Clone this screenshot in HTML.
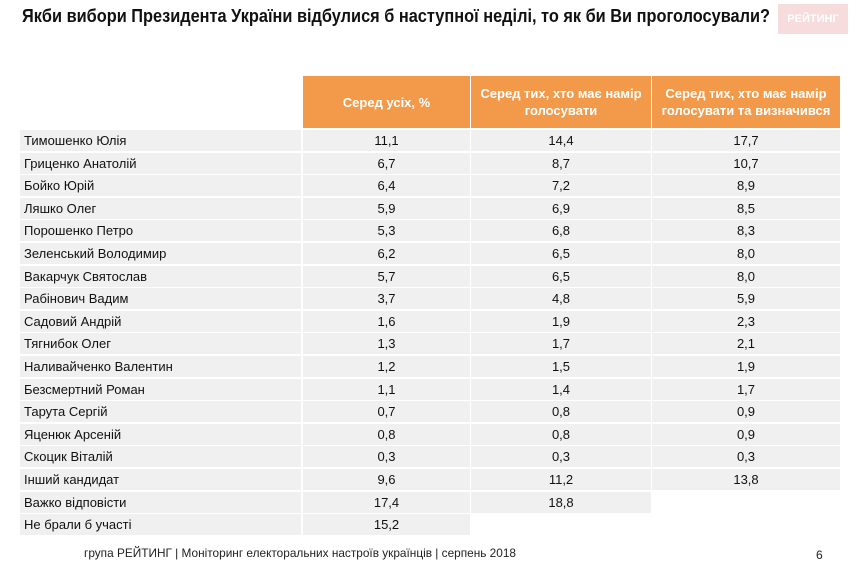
<!DOCTYPE html>
<html><head><meta charset="utf-8">
<style>
body{margin:0;width:855px;height:566px;background:#fff;overflow:hidden;font-family:"Liberation Sans Narrow","Liberation Sans",sans-serif;position:relative}
.abs{position:absolute}
.title{left:22px;top:6px;font-weight:bold;font-size:18px;color:#111;white-space:nowrap;transform-origin:0 0}
.logo{left:778px;top:4px;width:70px;height:30px;background:#f6dcdc;color:#fff;font-weight:bold;font-size:11px;line-height:30px;text-align:center}
.hdr{background:#f39a4a;color:#fff;font-weight:bold;font-size:13px;display:flex;align-items:center;justify-content:center;text-align:center;line-height:17px}
.cell{background:#f0f0f0;font-size:13px;color:#111;display:flex;align-items:center}
.num{justify-content:center}
.foot{font-size:12px;color:#222;white-space:nowrap}
</style></head><body>
<div class="abs title" id="title">Якби вибори Президента України відбулися б наступної неділі, то як би Ви проголосували?</div>
<div class="abs logo">РЕЙТИНГ</div>
<div id="tbl"></div>
<div class="abs foot" style="left:84px;top:546px">група РЕЙТИНГ |  Моніторинг електоральних настроїв українців | серпень  2018</div>
<div class="abs foot" style="left:816px;top:548px">6</div>
<script>
const headers=["Серед усіх, %","Серед тих, хто має намір голосувати","Серед тих, хто має намір голосувати та визначився"];
const names=["Тимошенко Юлія","Гриценко Анатолій","Бойко Юрій","Ляшко Олег","Порошенко Петро","Зеленський Володимир","Вакарчук Святослав","Рабінович Вадим","Садовий Андрій","Тягнибок Олег","Наливайченко Валентин","Безсмертний Роман","Тарута Сергій","Яценюк Арсеній","Скоцик Віталій","Інший кандидат","Важко відповісти","Не брали б участі"];
const allVals=["11,1","6,7","6,4","5,9","5,3","6,2","5,7","3,7","1,6","1,3","1,2","1,1","0,7","0,8","0,3","9,6","17,4","15,2"];
const votersVals=["14,4","8,7","7,2","6,9","6,8","6,5","6,5","4,8","1,9","1,7","1,5","1,4","0,8","0,8","0,3","11,2","18,8",null];
const decidedVals=["17,7","10,7","8,9","8,5","8,3","8,0","8,0","5,9","2,3","2,1","1,9","1,7","0,9","0,9","0,3","13,8",null,null];
const colX=[20,302,470,651,840];
const top0=130,rowH=22.6,hdrTop=76;
const tbl=document.getElementById('tbl');
function mk(cls,x,y,w,h,txt){const d=document.createElement('div');d.className='abs '+cls;d.style.left=x+'px';d.style.top=y+'px';d.style.width=w+'px';d.style.height=h+'px';d.textContent=txt;tbl.appendChild(d);return d;}
headers.forEach((h,i)=>{const d=mk('hdr',colX[i+1]+1,hdrTop,colX[i+2]-colX[i+1]-1,52,h);d.style.padding='0 6px';d.style.boxSizing='border-box';

});
const series=[allVals,votersVals,decidedVals];
names.forEach((n,r)=>{const y=top0+r*rowH;
const c=mk('cell',colX[0],y,colX[1]-colX[0]-1,rowH-1.5,n);c.style.paddingLeft='4px';c.style.boxSizing='border-box';


series.forEach((s,i)=>{if(s[r]==null)return;const v=mk('cell num',colX[i+1]+1,y,colX[i+2]-colX[i+1]-1,rowH-1.5,s[r]);

});});
const t=document.getElementById('title');const w=t.getBoundingClientRect().width;t.style.transform='scaleX('+(748/w)+')';
document.querySelectorAll('.foot').forEach(f=>{if(f.textContent.length>5){const fw=f.getBoundingClientRect().width;f.style.transformOrigin='0 0';f.style.transform='scaleX('+(432/fw)+')';}});
</script>
</body></html>
